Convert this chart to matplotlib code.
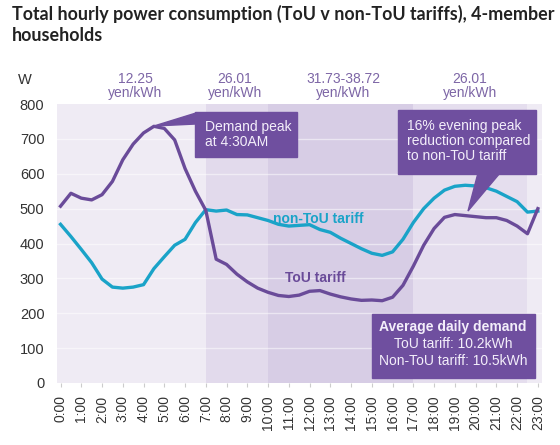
import numpy as np
import matplotlib
matplotlib.use("Agg")
import matplotlib.pyplot as plt
from matplotlib.patches import Rectangle, Polygon

plt.rcParams['font.family'] = ['Liberation Sans', 'DejaVu Sans']

# half-hourly readings, 0:00 .. 23:00
hours = np.arange(0, 23.01, 0.5)
tou = [507, 544, 530, 525, 540, 578, 640, 685, 717, 736, 730, 697, 615, 550, 495,
       355, 340, 312, 290, 272, 260, 251, 248, 252, 263, 265, 255, 247, 241, 237,
       238, 236, 246, 280, 335, 395, 443, 475, 483, 480, 477, 474, 474, 466, 450,
       428, 500]
non_tou = [455, 420, 383, 345, 298, 275, 272, 275, 282, 328, 362, 395, 412, 460, 497,
           493, 496, 483, 482, 474, 466, 455, 450, 452, 454, 440, 432, 415, 400, 385,
           372, 366, 376, 412, 460, 500, 530, 553, 564, 567, 565, 560, 550, 535, 520,
           490, 493]
tick_hours = list(range(24))
tick_labels = ["%d:00" % h for h in tick_hours]
yticks = [0, 100, 200, 300, 400, 500, 600, 700, 800]

# tariff bands (start, end, price label)
bands = [(-0.2, 7, '12.25\nyen/kWh'), (7, 10, '26.01\nyen/kWh'),
         (10, 17, '31.73-38.72\nyen/kWh'), (17, 22.5, '26.01\nyen/kWh')]
band_colors = ['#efebf4', '#e2daec', '#d7cde5', '#e5deee']

W, H = 560, 445
fig = plt.figure(figsize=(W / 100, H / 100), dpi=100)
fig.patch.set_facecolor('white')


def fx(x):
    return x / W


def fy(y):
    return 1 - y / H


ax = fig.add_axes([fx(57), fy(383), fx(542) - fx(57), fy(104) - fy(383)])
ax.set_facecolor('#efebf4')
ax.set_xlim(-0.17, 23.2)
ax.set_ylim(0, 800)

for (a, b, lab), c in zip(bands, band_colors):
    ax.axvspan(a, b, color=c, lw=0, zorder=0)

for y in yticks[1:-1]:
    ax.axhline(y, color='white', lw=1.0, alpha=0.5, zorder=1)

ax.plot(hours, non_tou, color='#1aa3c8', lw=2.4, zorder=3)
ax.plot(hours, tou, color='#6a4b99', lw=2.4, zorder=4)

ax.set_xticks(tick_hours)
ax.set_xticklabels(tick_labels, rotation=90, fontsize=10, color='#333333')
ax.set_yticks(yticks)
ax.set_yticklabels([str(v) for v in yticks], fontsize=10.5, color='#333333')
ax.tick_params(axis='x', length=3, color='#cccccc', pad=6)
ax.tick_params(axis='y', length=0, pad=9)
for s in ax.spines.values():
    s.set_visible(False)

# series labels
ax.text(12.4, 470, 'non-ToU tariff', color='#1aa3c8', fontsize=10,
        fontweight='bold', ha='center', va='center', zorder=5)
ax.text(12.3, 300, 'ToU tariff', color='#6a4b99', fontsize=10,
        fontweight='bold', ha='center', va='center', zorder=5)

# price labels above plot
price_x = [135, 235, 343, 470]
for (a, b, lab), px in zip(bands, price_x):
    fig.text(fx(px), fy(86), lab, ha='center', va='center', fontsize=10,
             color='#7d66a6', linespacing=1.05)

fig.text(fx(18), fy(80), 'W', ha='left', va='center', fontsize=10.5, color='#333333')

fig.text(fx(12), fy(5), 'Total hourly power consumption (ToU v non-ToU tariffs), 4-member\nhouseholds',
         ha='left', va='top', fontsize=12.9, fontweight='bold', color='#222222',
         family=['Lato', 'DejaVu Sans'], linespacing=1.3)

box_c = '#6f4f9f'


def callout(x0, y0, x1, y1, pts):
    fig.patches.append(Rectangle((fx(x0), fy(y1)), fx(x1) - fx(x0), fy(y0) - fy(y1),
                                 transform=fig.transFigure, color=box_c, zorder=6))
    if pts:
        fig.patches.append(Polygon([(fx(px), fy(py)) for px, py in pts],
                                   transform=fig.transFigure, color=box_c, zorder=6))


# demand peak box, pointing at the peak
callout(195, 112, 297, 157, [(196, 113), (154, 126), (196, 124)])
fig.text(fx(205), fy(134.5), 'Demand peak\nat 4:30AM', ha='left', va='center',
         fontsize=10, color='#f3eefa', linespacing=1.15, zorder=7)

callout(398, 110, 536, 174, [(478, 173), (468, 211), (500, 173)])
fig.text(fx(407), fy(141), '16% evening peak\nreduction compared\nto non-ToU tariff',
         ha='left', va='center', fontsize=10, color='#f3eefa', linespacing=1.1, zorder=7)

callout(372, 314, 535, 378, None)
fig.text(fx(453), fy(327), 'Average daily demand', ha='center', va='center',
         fontsize=10, fontweight='bold', color='#f3eefa', zorder=7)
fig.text(fx(453), fy(344), 'ToU tariff: 10.2kWh', ha='center', va='center',
         fontsize=10, color='#f3eefa', zorder=7)
fig.text(fx(453), fy(361), 'Non-ToU tariff: 10.5kWh', ha='center', va='center',
         fontsize=10, color='#f3eefa', zorder=7)

fig.savefig('out.png', dpi=100)
